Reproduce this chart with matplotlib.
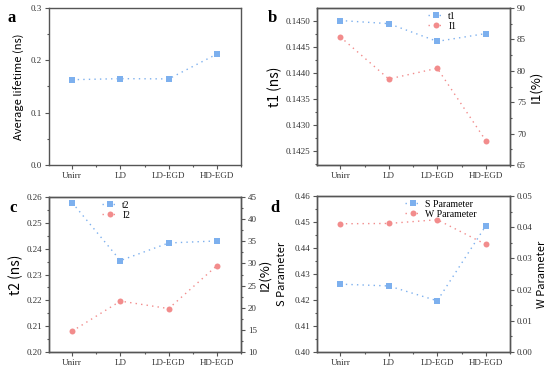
import matplotlib
matplotlib.use("Agg")
import matplotlib.pyplot as plt
from matplotlib.ticker import MultipleLocator, FormatStrFormatter

categories = ["Unirr", "LD", "LD-EGD", "HD-EGD"]
avg_lifetime = [0.163, 0.165, 0.1645, 0.212]
t1 = [0.14500, 0.14494, 0.14460, 0.14475]
I1 = [85.4, 78.7, 80.4, 68.9]
t2 = [0.2578, 0.2354, 0.2422, 0.2430]
I2 = [14.7, 21.5, 19.8, 29.5]
S_param = [0.4261, 0.4254, 0.4197, 0.4485]
W_param = [0.0411, 0.0412, 0.0424, 0.0345]

BLUE = "#7db0ee"
PINK = "#f28c8c"
SPINE = "#555555"
TICKFONT = "Liberation Serif"
LABFONT = ["Noto Sans CJK SC", "DejaVu Sans"]
SQ_MS = 3.7
CI_MS = 4.3

W, H = 550, 366
fig = plt.figure(figsize=(W / 100, H / 100), dpi=100)


def box(l, r, t, b):
    return [l / W, (H - b) / H, (r - l) / W, (b - t) / H]


def style(ax):
    for s in ax.spines.values():
        s.set_color(SPINE)
        s.set_linewidth(1.0)
    ax.tick_params(which="major", length=3, width=0.8, color=SPINE,
                   labelsize=6.5, pad=2, labelcolor="#333333")
    ax.tick_params(which="minor", length=1.5, width=0.8, color=SPINE)
    for lab in ax.get_xticklabels() + ax.get_yticklabels():
        lab.set_fontfamily(TICKFONT)


def setx(ax):
    x = list(range(len(categories)))
    ax.set_xlim(-0.48, 3.5)
    ax.set_xticks(x)
    ax.set_xticklabels(categories)
    ax.xaxis.set_minor_locator(MultipleLocator(0.5))


def plot_series(ax, y, color, marker, ms, label=None):
    x = list(range(len(categories)))
    return ax.plot(x, y, linestyle=(0, (1, 3)), linewidth=1.0, color=color,
                   marker=marker, markersize=ms, markeredgewidth=0,
                   label=label)[0]


LEG = dict(loc="upper left", frameon=False, prop={"family": TICKFONT, "size": 7},
           handlelength=1.6, handletextpad=0.5, labelspacing=0.1, borderpad=0.2)

# ---- panel a ----
axa = fig.add_axes(box(49, 241, 8, 165))
plot_series(axa, avg_lifetime, BLUE, "s", SQ_MS)
setx(axa)
axa.set_ylim(0, 0.3)
axa.yaxis.set_major_locator(MultipleLocator(0.1))
axa.yaxis.set_minor_locator(MultipleLocator(0.05))
axa.yaxis.set_major_formatter(FormatStrFormatter("%.1f"))
axa.set_ylabel("Average lifetime (ns)", fontsize=8, family=LABFONT, labelpad=4)
style(axa)
fig.text(8 / W, 1 - 22 / H, "a", fontsize=12, fontweight="bold", family="Liberation Serif")

# ---- panel b ----
axb = fig.add_axes(box(317, 510, 8, 165))
lb1 = plot_series(axb, t1, BLUE, "s", SQ_MS, "t1")
setx(axb)
axb.set_ylim(0.14223, 0.14524)
axb.yaxis.set_major_locator(MultipleLocator(0.0005))
axb.yaxis.set_minor_locator(MultipleLocator(0.00025))
axb.yaxis.set_major_formatter(FormatStrFormatter("%.4f"))
axb.set_ylabel("t1 (ns)", fontsize=10, family=LABFONT, labelpad=2)
style(axb)
axb2 = axb.twinx()
lb2 = plot_series(axb2, I1, PINK, "o", CI_MS, "I1")
axb2.set_ylim(65, 90)
axb2.yaxis.set_major_locator(MultipleLocator(5))
axb2.yaxis.set_minor_locator(MultipleLocator(2.5))
axb2.set_ylabel("I1(%)", fontsize=9.5, family=LABFONT, labelpad=2)
style(axb2)
axb2.legend([lb1, lb2], ["t1", "I1"], bbox_to_anchor=(0.54, 1.02), **LEG)
fig.text(268 / W, 1 - 22 / H, "b", fontsize=12, fontweight="bold", family="Liberation Serif")

# ---- panel c ----
axc = fig.add_axes(box(49, 241, 197, 352))
lc1 = plot_series(axc, t2, BLUE, "s", SQ_MS, "t2")
setx(axc)
axc.set_ylim(0.20, 0.26)
axc.yaxis.set_major_locator(MultipleLocator(0.01))
axc.yaxis.set_minor_locator(MultipleLocator(0.005))
axc.yaxis.set_major_formatter(FormatStrFormatter("%.2f"))
axc.set_ylabel("t2 (ns)", fontsize=10, family=LABFONT, labelpad=2)
style(axc)
axc2 = axc.twinx()
lc2 = plot_series(axc2, I2, PINK, "o", CI_MS, "I2")
axc2.set_ylim(10, 45)
axc2.yaxis.set_major_locator(MultipleLocator(5))
axc2.yaxis.set_minor_locator(MultipleLocator(2.5))
axc2.set_ylabel("I2(%)", fontsize=9.5, family=LABFONT, labelpad=1)
style(axc2)
axc2.legend([lc1, lc2], ["t2", "I2"], bbox_to_anchor=(0.24, 1.02), **LEG)
fig.text(9 / W, 1 - 212 / H, "c", fontsize=12, fontweight="bold", family="Liberation Serif")

# ---- panel d ----
axd = fig.add_axes(box(317, 510, 196, 352))
ld1 = plot_series(axd, S_param, BLUE, "s", SQ_MS, "S Parameter")
setx(axd)
axd.set_ylim(0.40, 0.46)
axd.yaxis.set_major_locator(MultipleLocator(0.01))
axd.yaxis.set_minor_locator(MultipleLocator(0.005))
axd.yaxis.set_major_formatter(FormatStrFormatter("%.2f"))
axd.set_ylabel("S Parameter", fontsize=8, family=LABFONT, labelpad=5)
style(axd)
axd2 = axd.twinx()
ld2 = plot_series(axd2, W_param, PINK, "o", CI_MS, "W Parameter")
axd2.set_ylim(0, 0.05)
axd2.yaxis.set_major_locator(MultipleLocator(0.01))
axd2.yaxis.set_minor_locator(MultipleLocator(0.005))
axd2.yaxis.set_major_formatter(FormatStrFormatter("%.2f"))
axd2.set_ylabel("W Parameter", fontsize=8, family=LABFONT, labelpad=3)
style(axd2)
axd2.legend([ld1, ld2], ["S Parameter", "W Parameter"],
            bbox_to_anchor=(0.42, 1.02), **LEG)
fig.text(270 / W, 1 - 212 / H, "d", fontsize=12, fontweight="bold", family="Liberation Serif")

fig.savefig("out.png", dpi=100)
